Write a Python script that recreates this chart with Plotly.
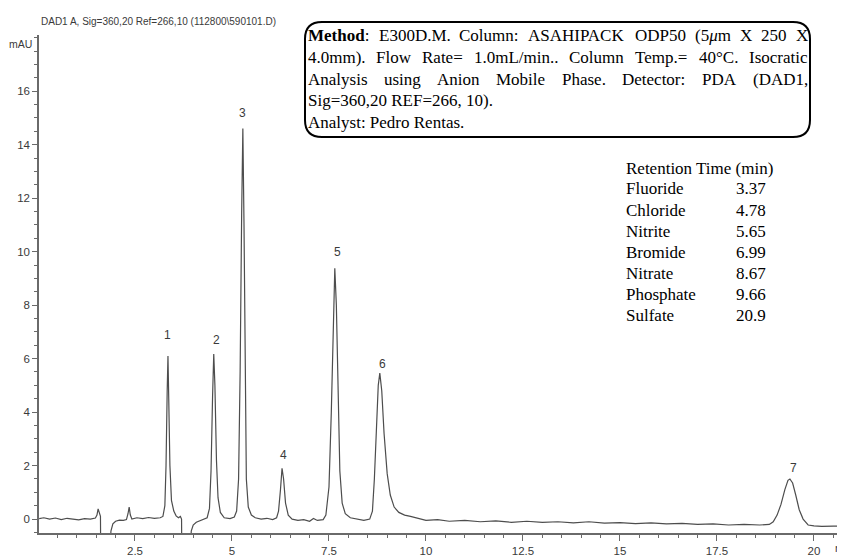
import re
import plotly.graph_objects as go

# ------------------------------------------------------------------ data
time_min = [0.03, 0.15, 0.30, 0.45, 0.60, 0.75, 0.90, 1.05, 1.20, 1.35, 1.48, 1.52, 1.55, 1.58, 1.61,
            1.62, 1.84, 1.88, 1.93, 2.00, 2.10, 2.20, 2.28, 2.32, 2.35, 2.38, 2.42, 2.55, 2.70, 2.85,
            3.00, 3.15, 3.22, 3.27, 3.30, 3.33, 3.35, 3.37, 3.40, 3.44, 3.50, 3.56, 3.62, 3.67, 3.70,
            3.71, 3.92, 3.95, 4.00, 4.08, 4.17, 4.28, 4.36, 4.42, 4.46, 4.50, 4.53, 4.56, 4.60, 4.64,
            4.70, 4.80, 4.95, 5.06, 5.12, 5.17, 5.21, 5.25, 5.28, 5.31, 5.34, 5.37, 5.42, 5.50, 5.60,
            5.75, 5.90, 6.05, 6.15, 6.20, 6.25, 6.29, 6.33, 6.38, 6.45, 6.55, 6.70, 6.85, 7.00, 7.10,
            7.20, 7.35, 7.42, 7.50, 7.56, 7.61, 7.65, 7.69, 7.73, 7.78, 7.84, 7.92, 8.05, 8.20, 8.40,
            8.55, 8.62, 8.67, 8.72, 8.77, 8.81, 8.86, 8.92, 9.00, 9.08, 9.18, 9.30, 9.45, 9.60, 9.80,
            10.0, 10.3, 10.6, 11.0, 11.4, 11.8, 12.2, 12.6, 13.0, 13.4, 13.8, 14.2, 14.6, 15.0, 15.4,
            15.8, 16.2, 16.6, 17.0, 17.4, 17.8, 18.2, 18.6, 18.85, 18.95, 19.05, 19.15, 19.25, 19.33, 19.38,
            19.45, 19.53, 19.62, 19.72, 19.85, 20.0, 20.2, 20.5, 20.8]
signal_mau = [0.02, 0.05, 0.00, 0.04, -0.02, 0.03, 0.00, -0.03, 0.02, 0.00, 0.04, 0.15, 0.38, 0.20, 0.10,
              -2.0, -2.0, -0.45, -0.18, -0.08, -0.04, -0.05, -0.02, 0.20, 0.45, 0.15, 0.00, 0.05, 0.02, 0.06,
              0.03, 0.05, 0.10, 0.50, 2.0, 4.8, 6.1, 4.5, 2.0, 0.70, 0.30, 0.12, 0.05, 0.10, 0.00,
              -2.0, -2.0, -0.45, -0.22, -0.12, -0.07, -0.02, 0.05, 0.40, 1.8, 4.6, 6.17, 5.0, 2.2, 0.80,
              0.25, 0.05, 0.02, 0.08, 0.30, 1.5, 5.5, 11.5, 14.6, 11.0, 4.5, 1.5, 0.45, 0.15, 0.05,
              0.00, 0.03, -0.02, 0.05, 0.30, 1.1, 1.9, 1.5, 0.60, 0.15, 0.00, -0.05, -0.02, -0.08, 0.02,
              -0.05, -0.02, 0.15, 1.2, 4.0, 7.8, 9.38, 8.0, 4.5, 1.8, 0.60, 0.20, 0.05, 0.00, -0.05,
              0.00, 0.30, 1.5, 3.5, 5.0, 5.46, 4.8, 3.2, 1.7, 0.90, 0.45, 0.25, 0.15, 0.10, 0.02,
              -0.05, -0.02, -0.08, -0.05, -0.10, -0.07, -0.12, -0.08, -0.12, -0.10, -0.14, -0.10, -0.15, -0.13, -0.17,
              -0.14, -0.18, -0.16, -0.20, -0.18, -0.22, -0.20, -0.22, -0.20, -0.10, 0.15, 0.55, 1.1, 1.45, 1.5,
              1.35, 0.90, 0.35, 0.00, -0.22, -0.25, -0.27, -0.26, -0.28]

peak_numbers = ["1", "2", "3", "4", "5", "6", "7"]
peak_label_time = [3.35, 4.59, 5.28, 6.34, 7.71, 8.87, 19.46]
peak_label_mau = [6.9, 6.7, 15.2, 2.4, 10.0, 5.8, 1.9]

analytes = ["Fluoride", "Chloride", "Nitrite", "Bromide", "Nitrate", "Phosphate", "Sulfate"]
retention_times = ["3.37", "4.78", "5.65", "6.99", "8.67", "9.66", "20.9"]

x_tick_vals = [2.5, 5, 7.5, 10, 12.5, 15, 17.5, 20]
x_tick_text = ["2.5", "5", "7.5", "10", "12.5", "15", "17.5", "20"]
y_tick_vals = [0, 2, 4, 6, 8, 10, 12, 14, 16]
y_tick_text = ["0", "2", "4", "6", "8", "10", "12", "14", "16"]

title_text = "DAD1 A, Sig=360,20 Ref=266,10 (112800\\590101.D)"
method_lines = [
    ["<b>Method</b>:", "E300D.M.", "Column:", "ASAHIPACK", "ODP50", "(5<i>μ</i>m", "X", "250", "X"],
    ["4.0mm).", "Flow", "Rate=", "1.0mL/min..", "Column", "Temp.=", "40°C.", "Isocratic"],
    ["Analysis", "using", "Anion", "Mobile", "Phase.", "Detector:", "PDA", "(DAD1,"],
]
method_plain_lines = ["Sig=360,20 REF=266, 10).", "Analyst: Pedro Rentas."]

# ------------------------------------------------------------------ layout helpers
# the page body has an 8 px margin: the figure is drawn from page pixel (8, 8)
OFF = 8
W, H = 845 - OFF, 556 - OFF
ML, MR, MT, MB = 39 - OFF, 0, 35 - OFF, 23
PW, PH = W - ML - MR, H - MT - MB


def px(x):  # page pixel -> paper x
    return (x - OFF - ML) / PW


def py(y):  # page pixel -> paper y
    return (H - MB - (y - OFF)) / PH


SANS = "Liberation Sans, Arial, sans-serif"
SERIF = "Liberation Serif, Times New Roman, serif"
AXC = "#6a6a6a"
TXC = "#3a3a3a"

TR = {' ': 250, '(': 333, ')': 333, ',': 250, '-': 333, '.': 250, '/': 278, ':': 278, '=': 564,
      '°': 400, 'μ': 500}
for d in "0123456789":
    TR[d] = 500
TR.update({'A': 722, 'B': 667, 'C': 667, 'D': 722, 'E': 611, 'F': 556, 'G': 722, 'H': 722, 'I': 333,
           'J': 389, 'K': 722, 'L': 611, 'M': 889, 'N': 722, 'O': 722, 'P': 556, 'Q': 722, 'R': 667,
           'S': 556, 'T': 611, 'U': 722, 'V': 722, 'W': 944, 'X': 722, 'Y': 722, 'Z': 611,
           'a': 444, 'b': 500, 'c': 444, 'd': 500, 'e': 444, 'f': 333, 'g': 500, 'h': 500, 'i': 278,
           'j': 278, 'k': 500, 'l': 278, 'm': 778, 'n': 500, 'o': 500, 'p': 500, 'q': 500, 'r': 333,
           's': 389, 't': 278, 'u': 500, 'v': 500, 'w': 722, 'x': 500, 'y': 500, 'z': 444})
TB = {'M': 944, 'e': 444, 't': 333, 'h': 556, 'o': 500, 'd': 556}


def word_width(html, size):
    total = 0
    for b in re.findall(r"<b>(.*?)</b>", html):
        total += sum(TB.get(c, 500) for c in b)
    rest = re.sub(r"<b>.*?</b>", "", html)
    rest = re.sub(r"<.*?>", "", rest)
    total += sum(TR.get(c, 500) for c in rest)
    return total * size / 1000.0


# ------------------------------------------------------------------ figure
fig = go.Figure()
fig.add_trace(go.Scatter(x=time_min, y=signal_mau, mode="lines",
                         line=dict(color="#4d4d4d", width=1.2), hoverinfo="skip", showlegend=False))

ann = []
for lab, t, v in zip(peak_numbers, peak_label_time, peak_label_mau):
    ann.append(dict(x=t, y=v, xref="x", yref="y", text=lab, showarrow=False,
                    font=dict(family=SANS, size=12, color=TXC)))

ann.append(dict(x=px(40), y=py(21), xref="paper", yref="paper", text=title_text, showarrow=False,
                xanchor="left", yanchor="middle", borderpad=0,
                font=dict(family=SANS, size=10, color=TXC)))
ann.append(dict(x=px(33), y=py(44), xref="paper", yref="paper", text="mAU", showarrow=False,
                xanchor="right", yanchor="middle", borderpad=0,
                font=dict(family=SANS, size=10.5, color=TXC)))
ann.append(dict(x=px(834), y=py(548), xref="paper", yref="paper", text="min", showarrow=False,
                xanchor="left", yanchor="middle", borderpad=0,
                font=dict(family=SANS, size=11, color=TXC)))

FS = 17
line_y = [35, 57, 79, 101, 123]
X0, X1 = 307, 807
for li, words in enumerate(method_lines):
    widths = [word_width(w, FS) for w in words]
    gap = (X1 - X0 - sum(widths)) / (len(words) - 1)
    xpos = X0
    for w, ww in zip(words, widths):
        ann.append(dict(x=px(xpos), y=py(line_y[li]), xref="paper", yref="paper", text=w,
                        showarrow=False, xanchor="left", yanchor="middle", borderpad=0,
                        font=dict(family=SERIF, size=FS, color="black")))
        xpos += ww + gap
for k, txt in enumerate(method_plain_lines):
    ann.append(dict(x=px(X0), y=py(line_y[3 + k]), xref="paper", yref="paper", text=txt,
                    showarrow=False, xanchor="left", yanchor="middle", borderpad=0,
                    font=dict(family=SERIF, size=FS, color="black")))

# retention-time table
TX_NAME, TX_VAL, TY0, TDY = 625, 735, 168, 21
ann.append(dict(x=px(TX_NAME), y=py(TY0), xref="paper", yref="paper", text="Retention Time (min)",
                showarrow=False, xanchor="left", yanchor="middle", borderpad=0,
                font=dict(family=SERIF, size=FS, color="black")))
for i, (nm, rt) in enumerate(zip(analytes, retention_times)):
    yy = py(TY0 + TDY * (i + 1))
    ann.append(dict(x=px(TX_NAME), y=yy, xref="paper", yref="paper", text=nm, showarrow=False,
                    xanchor="left", yanchor="middle", borderpad=0,
                    font=dict(family=SERIF, size=FS, color="black")))
    ann.append(dict(x=px(TX_VAL), y=yy, xref="paper", yref="paper", text=rt, showarrow=False,
                    xanchor="left", yanchor="middle", borderpad=0,
                    font=dict(family=SERIF, size=FS, color="black")))

# rounded box around the method text (page pixels)
bx0, bx1, by0, by1, r = 305, 810, 22, 137, 17


def P(x, y):
    return f"{px(x):.5f},{py(y):.5f}"


path = (f"M {P(bx0 + r, by0)} L {P(bx1 - r, by0)} Q {P(bx1, by0)} {P(bx1, by0 + r)} "
        f"L {P(bx1, by1 - r)} Q {P(bx1, by1)} {P(bx1 - r, by1)} "
        f"L {P(bx0 + r, by1)} Q {P(bx0, by1)} {P(bx0, by1 - r)} "
        f"L {P(bx0, by0 + r)} Q {P(bx0, by0)} {P(bx0 + r, by0)} Z")

fig.update_layout(
    width=W, height=H,
    margin=dict(l=ML, r=MR, t=MT, b=MB, pad=0),
    paper_bgcolor="white", plot_bgcolor="white",
    showlegend=False,
    annotations=ann,
    shapes=[dict(type="path", path=path, xref="paper", yref="paper",
                 line=dict(color="black", width=2), fillcolor="rgba(0,0,0,0)")],
    xaxis=dict(range=[0.026, 20.8], showgrid=False, zeroline=False, showline=True,
               linecolor=AXC, linewidth=1.5, ticks="outside", ticklen=6, tickwidth=1,
               tickcolor=AXC, tickmode="array", tickvals=x_tick_vals, ticktext=x_tick_text,
               tickfont=dict(family=SANS, size=11.5, color=TXC),
               minor=dict(tickmode="linear", tick0=0, dtick=0.5, ticks="outside", ticklen=3,
                          tickwidth=1, tickcolor=AXC, showgrid=False)),
    yaxis=dict(range=[-0.52, 18.1], showgrid=False, zeroline=False, showline=True,
               linecolor=AXC, linewidth=1.5, ticks="outside", ticklen=5, tickwidth=1,
               tickcolor=AXC, tickmode="array", tickvals=y_tick_vals, ticktext=y_tick_text,
               tickfont=dict(family=SANS, size=11.5, color=TXC),
               minor=dict(tickmode="linear", tick0=0, dtick=0.5, ticks="outside", ticklen=3,
                          tickwidth=1, tickcolor=AXC, showgrid=False)),
)

fig.write_html("out.html")
